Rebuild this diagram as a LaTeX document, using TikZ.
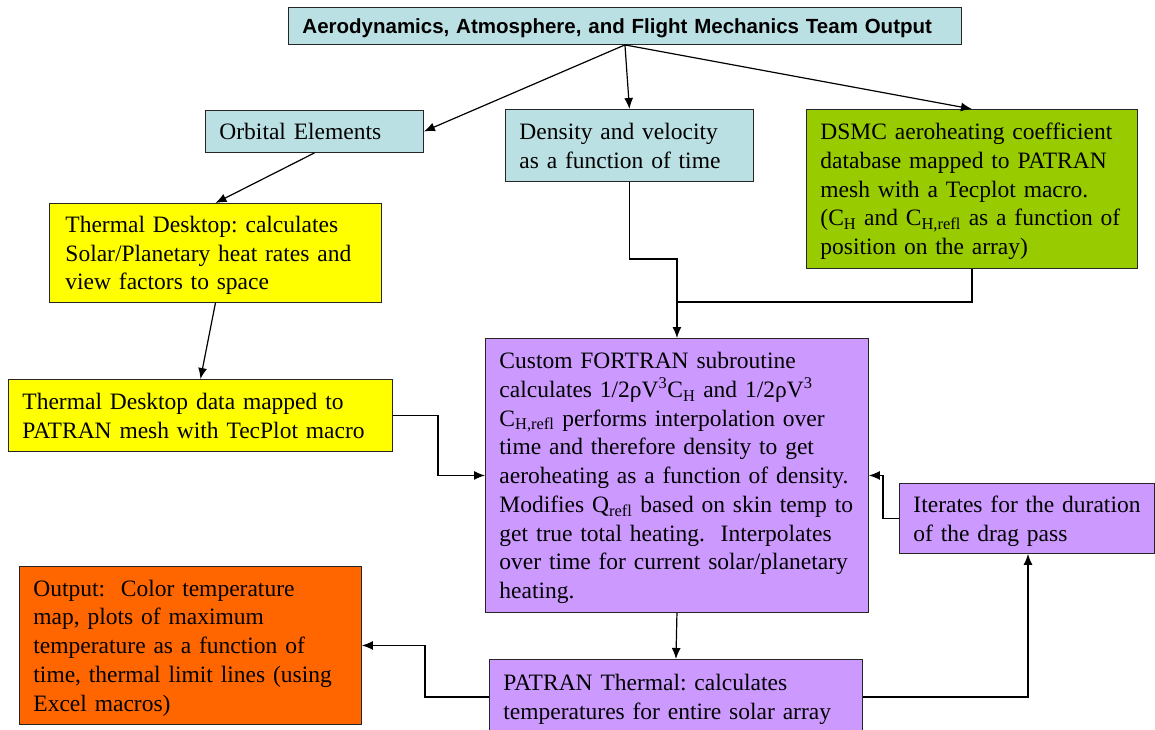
\documentclass[tikz,border=0pt]{standalone}
\usepackage{fontspec}
\setmainfont{Liberation Serif}
\setsansfont{Liberation Sans}
\usetikzlibrary{arrows.meta}
\definecolor{lblue}{RGB}{187,224,227}
\definecolor{lyellow}{RGB}{255,255,0}
\definecolor{lgreen}{RGB}{153,204,0}
\definecolor{lpurple}{RGB}{204,153,255}
\definecolor{lorange}{RGB}{255,102,0}
\newcommand\mlines[1]{\raisebox{-2.5pt}[\height][\depth]{\begin{tabular}{@{}l@{}}#1\end{tabular}}}
\tikzset{
  box/.style={draw=black!85, line width=0.9pt, inner xsep=14pt, inner ysep=0pt,
    align=left, anchor=north west, font=\fontsize{23.5}{28.75}\selectfont\frenchspacing},
  conn/.style={line width=1.2pt, -{Latex[length=11pt,width=9pt]}},
  plain/.style={line width=1.2pt}
}
\begin{document}
\begin{tikzpicture}[x=1pt,y=-1pt]
\useasboundingbox (0,0) rectangle (1155,729);

\node[box, fill=lblue, text width=645pt, minimum height=37pt,
  font=\sffamily\bfseries\fontsize{20.5}{24}\selectfont] (title) at (288,7)
  {\mlines{Aerodynamics, Atmosphere, and Flight Mechanics Team Output}};

\node[box, fill=lblue, text width=190pt, minimum height=42pt] (orb) at (205,110)
  {\mlines{Orbital Elements}};

\node[box, fill=lblue, text width=220pt, minimum height=72pt] (dens) at (505,109)
  {\mlines{Density and velocity\\as a function of time}};

\node[box, fill=lgreen, text width=303pt, minimum height=159pt] (dsmc) at (806,109)
  {\mlines{DSMC aeroheating coefficient\\database mapped to PATRAN\\mesh with a Tecplot macro.\\(C\textsubscript{H} and C\textsubscript{H,refl} as a function of\\position on the array)}};

\node[box, fill=lyellow, inner xsep=16pt, text width=300pt, minimum height=99pt] (td) at (49,203)
  {\mlines{Thermal Desktop: calculates\\Solar/Planetary heat rates and\\view factors to space}};

\node[box, fill=lyellow, text width=356pt, minimum height=72pt] (tdd) at (8,379)
  {\mlines{Thermal Desktop data mapped to\\PATRAN mesh with TecPlot macro}};

\node[box, fill=lpurple, text width=355pt, minimum height=274pt] (fort) at (485,338)
  {\mlines{Custom FORTRAN subroutine\\calculates 1/2ρV\textsuperscript{3}C\textsubscript{H} and 1/2ρV\textsuperscript{3}\\C\textsubscript{H,refl} performs interpolation over\\time and therefore density to get\\aeroheating as a function of density.\\Modifies Q\textsubscript{refl} based on skin temp to\\get true total heating.\ \ Interpolates\\over time for current solar/planetary\\heating.}};

\node[box, fill=lpurple, text width=227pt, minimum height=70pt] (iter) at (899,483)
  {\mlines{Iterates for the duration\\of the drag pass}};

\node[box, fill=lorange, text width=314pt, minimum height=158pt] (out) at (19,566)
  {\mlines{Output:\ \ Color temperature\\map, plots of maximum\\temperature as a function of\\time, thermal limit lines (using\\Excel macros)}};

\node[box, fill=lpurple, text width=345pt, minimum height=75pt] (pat) at (489,659)
  {\mlines{PATRAN Thermal: calculates\\temperatures for entire solar array}};

% connectors
\draw[conn] (title.south) -- (orb.east);
\draw[conn] (title.south) -- (dens.north);
\draw[conn] (title.south) -- (dsmc.north);
\draw[conn] (orb.south) -- (td.north);
\draw[conn] (td.south) -- (tdd.north);
\draw[conn] (tdd.east) -- (438,0 |- tdd.east) |- (fort.west);
\draw[conn] (iter.west) -- (883,0 |- iter.west) |- (fort.east);
\coordinate (j1) at (fort.north |- 0,259);
\coordinate (j2) at (fort.north |- 0,302);
\draw[conn] (dens.south) |- (j1) -- (fort.north);
\draw[plain] (dsmc.south) |- (j2);
\draw[conn] (fort.south) -- (pat.north);
\draw[conn] (pat.east) -| (iter.south -| 1028,0);
\draw[conn] (pat.west) -- (425,0 |- pat.west) |- (out.east);
\end{tikzpicture}
\end{document}
